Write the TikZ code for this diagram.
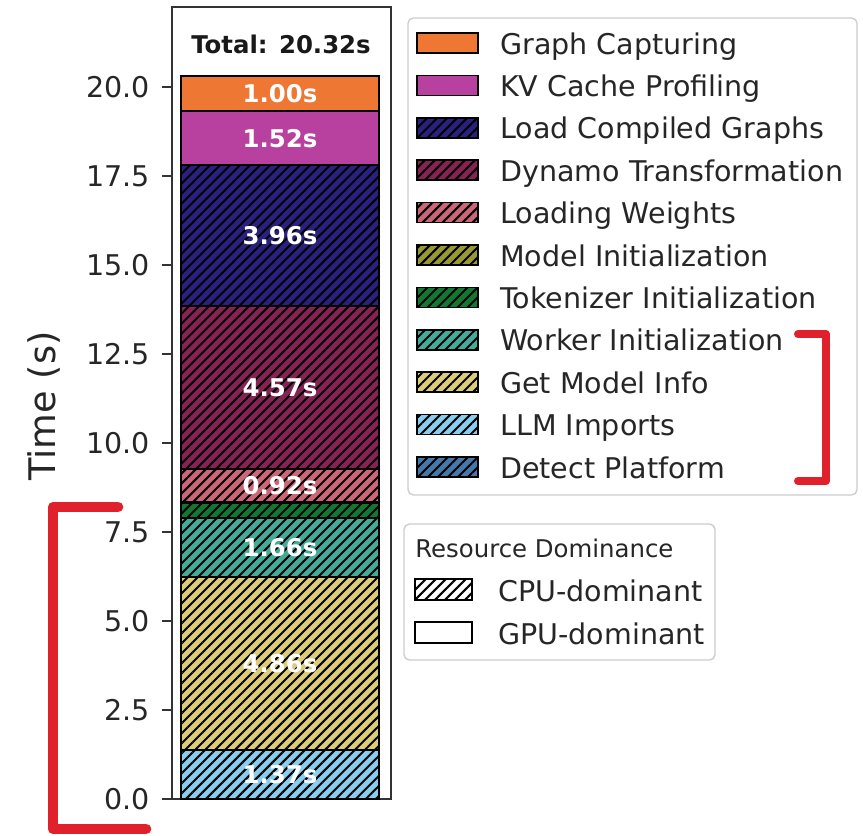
\documentclass[tikz,border=0pt]{standalone}
\usepackage{fontspec}
\setmainfont{DejaVu Sans}
\usetikzlibrary{patterns.meta}

\begin{document}
\begin{tikzpicture}[x=0.75pt, y=-0.75pt]
  \definecolor{cGraph}{HTML}{EE7733} \definecolor{cKV}{HTML}{B8409F} \definecolor{cLoad}{HTML}{2A2080}
  \definecolor{cDynamo}{HTML}{882255} \definecolor{cWeights}{HTML}{CC6677} \definecolor{cModel}{HTML}{999933}
  \definecolor{cToken}{HTML}{117733} \definecolor{cWorker}{HTML}{44AA99} \definecolor{cInfo}{HTML}{DDCC77}
  \definecolor{cLLM}{HTML}{88CCEE} \definecolor{cDetect}{HTML}{4477AA} \definecolor{bracket}{HTML}{E0202B}
  \tikzstyle{axis}=[draw=black!80, line width=1pt]
  \tikzstyle{seg}=[draw=black, line width=1.4pt]
  \tikzstyle{cpu}=[postaction={pattern={Lines[angle=45, distance=5.3pt, line width=1.5pt]}, pattern color=black}]
  \tikzstyle{gpu}=[]
  \tikzstyle{ticklab}=[anchor=east, inner sep=0pt, text=black!85, font=\fontsize{21.4}{25}\selectfont]
  \tikzstyle{barlab}=[inner sep=0pt, text=white, font=\bfseries\fontsize{18.3}{22}\selectfont]
  \tikzstyle{legbox}=[draw=black!20, fill=white, line width=1pt, rounded corners=4pt]
  \tikzstyle{legpatch}=[draw=black, line width=1.2pt]
  \tikzstyle{legtext}=[anchor=base west, inner sep=0pt, text=black!85, font=\fontsize{21.4}{25}\selectfont]
  \tikzstyle{redmark}=[draw=bracket, line cap=round, line join=round]
  \useasboundingbox (0,0) rectangle (863,835);

  % axes and ticks
  \draw[axis] (172,7) rectangle (391,799);
  \foreach \v [count=\i] in {0.0,2.5,5.0,7.5,10.0,12.5,15.0,17.5,20.0} {
    \draw[axis] (162,{799-35.6*\v}) -- (172,{799-35.6*\v});
    \node[ticklab] (tick\i) at (150,{799-35.6*\v}) {\v};
  }
  \node[rotate=90, text=black!85, font=\fontsize{27.5}{32}\selectfont] (ylab) at (44,406) {Time (s)};

  % stacked bar
  \foreach \lo/\hi/\col/\kind in {0.00/0.01/cDetect/cpu, 0.01/1.38/cLLM/cpu, 1.38/6.24/cInfo/cpu,
      6.24/7.90/cWorker/cpu, 7.90/8.30/cToken/cpu, 8.30/8.35/cModel/cpu, 8.35/9.27/cWeights/cpu,
      9.27/13.84/cDynamo/cpu, 13.84/17.80/cLoad/cpu, 17.80/19.32/cKV/gpu, 19.32/20.32/cGraph/gpu} {
    \path[seg, fill=\col, \kind] (181,{799-35.6*\lo}) rectangle (379,{799-35.6*\hi});
  }
  \foreach \lo/\hi/\lab [count=\i] in {0.01/1.38/1.37s, 1.38/6.24/4.86s, 6.24/7.90/1.66s, 8.35/9.27/0.92s,
      9.27/13.84/4.57s, 13.84/17.80/3.96s, 17.80/19.32/1.52s, 19.32/20.32/1.00s} {
    \node[barlab] (val\i) at (280,{799-35.6*(\lo+\hi)/2}) {\lab};
  }
  \node[inner sep=0pt, text=black!90, font=\bfseries\fontsize{18.3}{22}\selectfont] (total) at (281,44) {Total: 20.32s};

  % phase legend
  \draw[legbox] (408,18) rectangle (857,495);
  \foreach \col/\kind/\name [count=\i from 0] in {cGraph/gpu/Graph Capturing, cKV/gpu/KV Cache Profiling,
      cLoad/cpu/Load Compiled Graphs, cDynamo/cpu/Dynamo Transformation, cWeights/cpu/Loading Weights,
      cModel/cpu/Model Initialization, cToken/cpu/Tokenizer Initialization, cWorker/cpu/Worker Initialization,
      cInfo/cpu/Get Model Info, cLLM/cpu/LLM Imports, cDetect/cpu/Detect Platform} {
    \path[legpatch, fill=\col, \kind] (417,{33+42.4*\i}) rectangle (478,{53+42.4*\i});
    \node[legtext] (leg\i) at (500,{54+42.4*\i}) {\name};
  }

  % resource legend
  \draw[legbox] (404,524) rectangle (715,660);
  \node[legtext, font=\fontsize{18.3}{22}\selectfont] (restitle) at (415,557) {Resource Dominance};
  \path[legpatch, fill=white, cpu] (415,579) rectangle (472,600);
  \node[legtext] (rescpu) at (498,601) {CPU-dominant};
  \path[legpatch, fill=white] (415,622) rectangle (472,643);
  \node[legtext] (resgpu) at (498,644) {GPU-dominant};

  % red brackets
  \draw[redmark, line width=6pt] (798,334) -- (826,334) -- (826,481) -- (798,481);
  \draw[redmark, line width=8pt] (118,507) -- (53,507) -- (53,829) -- (146,829);
\end{tikzpicture}
\end{document}
